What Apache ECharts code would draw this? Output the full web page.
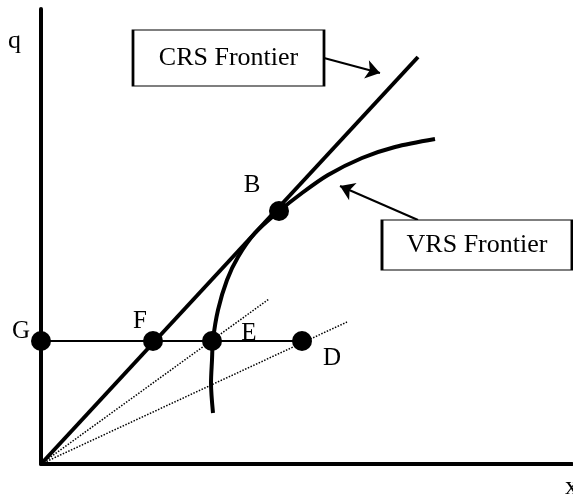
<!DOCTYPE html>
<html>
<head>
<meta charset="utf-8">
<script src="https://cdn.jsdelivr.net/npm/echarts@6/dist/echarts.min.js"></script>
<style>
  html, body { margin: 0; padding: 0; background: #fff; }
  #chart { width: 573px; height: 498px; }
</style>
</head>
<body>
<div id="chart"></div>
<script>
// points on the input/output diagram (x = input, q = output)
const pointNames = ["G", "F", "E", "D", "B"];
const pointX = [0, 112, 171, 261, 238];
const pointQ = [123, 123, 123, 123, 253];
const labelOffsets = [[-20, -10], [-13, -20], [37, -8], [30, 17], [-27, -26]];

// constant returns frontier: ray from origin
const crsLine = [[0, 0], [377, 407]];
// variable returns frontier
const vrsCurve = [
  [172, 51], [170, 81], [171, 104], [172, 124], [177, 154], [186, 184],
  [197, 207], [214, 231], [237, 252], [261, 271], [287, 289], [321, 306],
  [354, 317], [394, 325]
];
// G -> D horizontal
const levelLine = [[0, 123], [261, 123]];
// dotted rays through E and D
const rayE = [[0, 0], [228, 165]];
const rayD = [[0, 0], [306, 142]];

// annotation boxes and arrows
const boxNames = ["CRS Frontier", "VRS Frontier"];
const boxCenters = [[187.5, 406], [436, 219]];
const boxSizes = [[191, 56], [190, 50]];
const arrows = [
  [[283, 406], [339, 391]],
  [[377, 244], [299, 278]]
];

const serif = '"Liberation Serif", "Times New Roman", serif';

const chart = echarts.init(document.getElementById("chart"));

const solid = (data, width) => ({
  type: "line",
  data: data,
  showSymbol: false,
  symbol: "none",
  lineStyle: { color: "#000", width: width },
  silent: true,
  z: 2
});

chart.setOption({
  animation: false,
  backgroundColor: "#fff",
  grid: { left: 41, right: 1, top: 9, bottom: 34 },
  xAxis: {
    type: "value", min: 0, max: 531,
    axisLine: { show: true, lineStyle: { color: "#000", width: 4 } },
    axisTick: { show: false }, axisLabel: { show: false }, splitLine: { show: false }
  },
  yAxis: {
    type: "value", min: 0, max: 455,
    axisLine: { show: true, lineStyle: { color: "#000", width: 4 } },
    axisTick: { show: false }, axisLabel: { show: false }, splitLine: { show: false }
  },
  graphic: [
    { type: "text", left: 8, top: 28, style: { text: "q", font: "26px " + serif, fill: "#000" } },
    { type: "text", left: 565, top: 474, style: { text: "x", font: "26px " + serif, fill: "#000" } }
  ],
  series: [
    solid(crsLine, 4),
    Object.assign(solid(vrsCurve, 4), { smooth: 0.3 }),
    solid(levelLine, 2),
    {
      type: "line", data: rayE, symbol: "none", silent: true,
      lineStyle: { color: "#000", width: 1.5, type: [1.5, 1.5] }
    },
    {
      type: "line", data: rayD, symbol: "none", silent: true,
      lineStyle: { color: "#000", width: 1.5, type: [1.5, 1.5] }
    },
    {
      type: "lines",
      coordinateSystem: "cartesian2d",
      data: arrows.map(a => ({ coords: a })),
      symbol: ["none", "arrow"],
      symbolSize: [0, 14],
      lineStyle: { color: "#000", width: 2, opacity: 1 },
      silent: true
    },
    {
      type: "scatter",
      data: boxNames.map((n, i) => ({
        name: n,
        value: boxCenters[i],
        symbolSize: boxSizes[i]
      })),
      symbol: "rect",
      itemStyle: { color: "#fff", borderColor: "#000", borderWidth: 1.5, opacity: 1 },
      label: {
        show: true, position: "inside", formatter: "{b}",
        color: "#000", fontSize: 26, fontFamily: serif
      },
      silent: true,
      z: 3
    },
    {
      type: "scatter",
      data: pointNames.map((n, i) => ({
        name: n,
        value: [pointX[i], pointQ[i]],
        label: { offset: labelOffsets[i] }
      })),
      symbol: "circle",
      symbolSize: 20,
      itemStyle: { color: "#000", opacity: 1 },
      label: {
        show: true, position: "inside", formatter: "{b}",
        color: "#000", fontSize: 25, fontFamily: serif
      },
      silent: true,
      z: 4
    }
  ]
});
</script>
</body>
</html>
